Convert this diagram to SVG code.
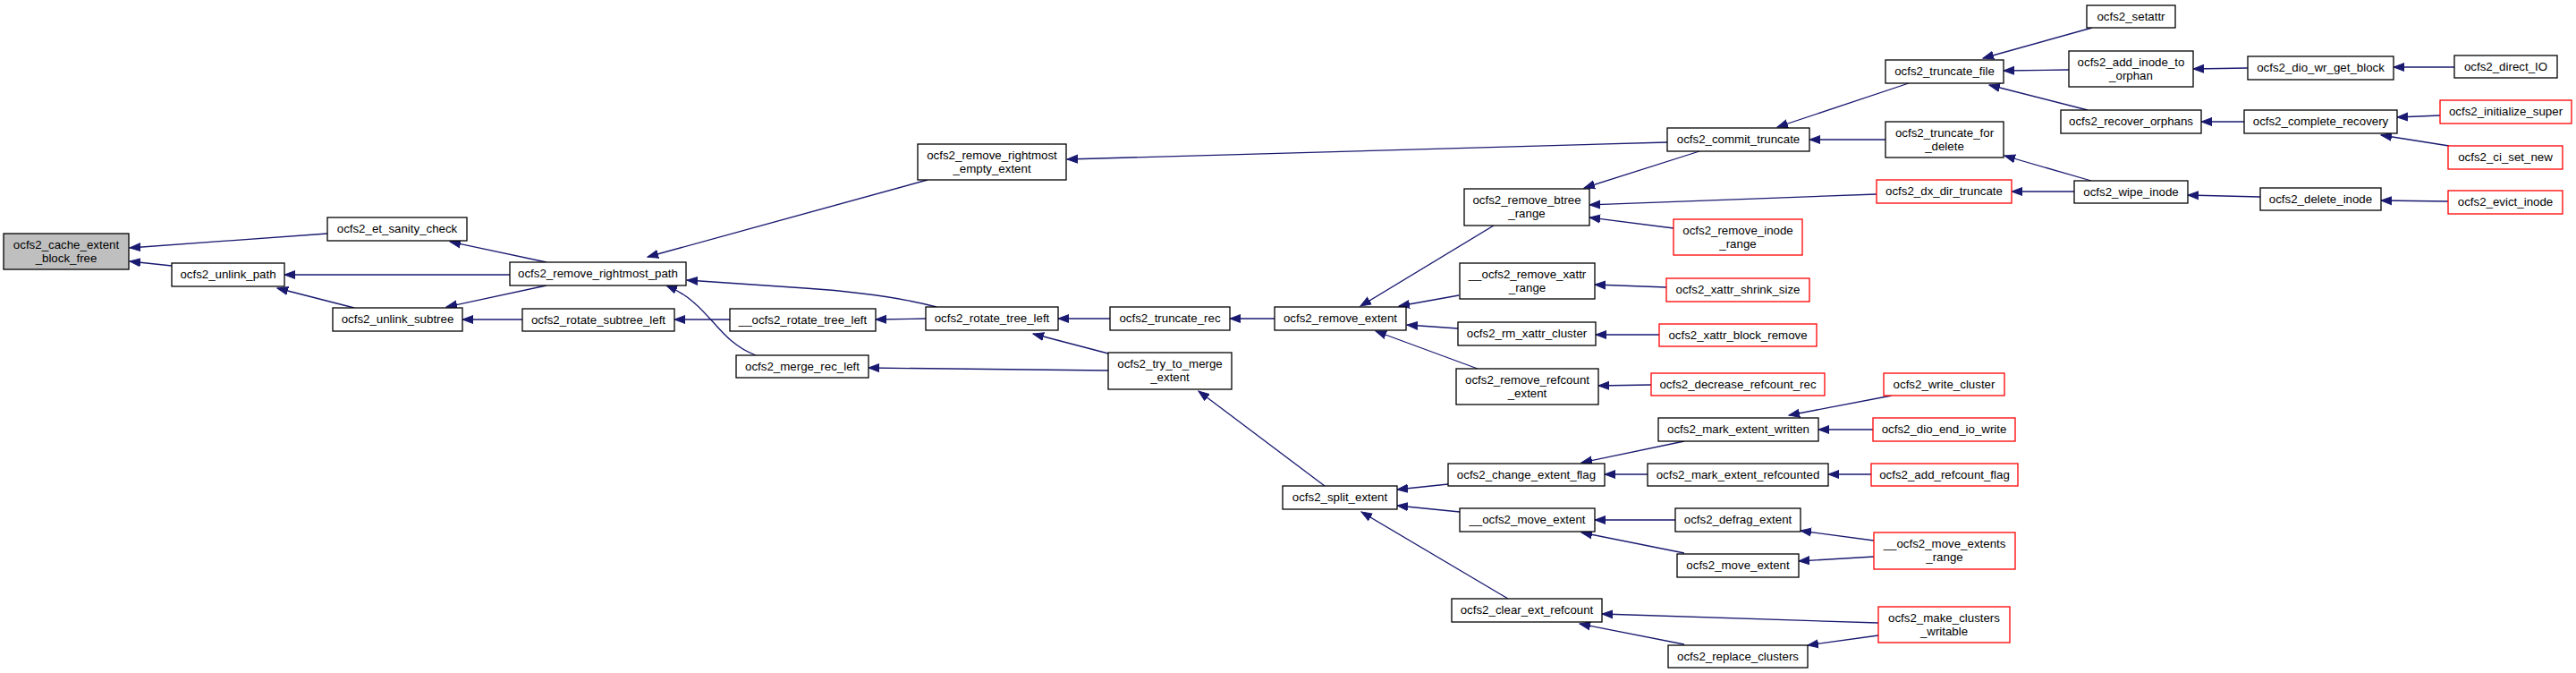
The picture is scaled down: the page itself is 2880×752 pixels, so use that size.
<svg xmlns="http://www.w3.org/2000/svg" width="2880" height="752" viewBox="0 0 2880 752">
<style>
.n rect{fill:#fff;stroke:#000;stroke-width:1.3}
.r rect{stroke:#ff0000}
.g rect{fill:#bfbfbf}
text{font-family:"Liberation Sans",Arial,Helvetica,sans-serif;font-size:13.3px;text-anchor:middle;fill:#000}
.e path{fill:none;stroke:#191970;stroke-width:1.3;marker-end:url(#a)}
</style>
<defs>
<marker id="a" markerUnits="userSpaceOnUse" markerWidth="14" markerHeight="12" refX="12" refY="5" orient="auto" viewBox="0 0 14 10">
<path d="M0,0.5 L12,5 L0,9.5 z" fill="#191970" stroke="#191970" stroke-width="1"/>
</marker>
</defs>
<rect width="2880" height="752" fill="#fff"/>
<g id="edges" class="e">
<path d="M366,261 L145,277"/>
<path d="M192,297 L145,292"/>
<path d="M611,293 L503,270"/>
<path d="M570,307 L318,307"/>
<path d="M396,344 L310,322"/>
<path d="M611,319 L499,343"/>
<path d="M584,357 L517,357"/>
<path d="M816,357 L754,357"/>
<path d="M1035,356 L979,357"/>
<path d="M1241,356 L1183,356"/>
<path d="M1425,356 L1375,356"/>
<path d="M1239,395 L1155,373"/>
<path d="M1239,414 L971,411"/>
<path d="M1047,343 Q990,328 900,322 L768,313"/>
<path d="M1037,201 L724,287"/>
<path d="M845,397 C800,380 795,340 745,319"/>
<path d="M1864,159 L1193,178"/>
<path d="M1670,252 L1521,342"/>
<path d="M1631,330 L1564,342"/>
<path d="M1630,367 L1573,363"/>
<path d="M1652,412 L1538,370"/>
<path d="M1481,543 L1340,437"/>
<path d="M1619,541 L1562,547"/>
<path d="M1632,572 L1562,565"/>
<path d="M1686,669 L1522,572"/>
<path d="M1883,493 L1768,517"/>
<path d="M1842,530 L1794,530"/>
<path d="M2115,442 L2000,464"/>
<path d="M2094,480 L2033,480"/>
<path d="M2092,530 L2044,530"/>
<path d="M1873,581 L1783,581"/>
<path d="M1883,618 L1768,595"/>
<path d="M2095,604 L2013,593"/>
<path d="M2095,622 L2011,627"/>
<path d="M2100,696 L1791,686"/>
<path d="M1883,720 L1766,697"/>
<path d="M2100,710 L2021,721"/>
<path d="M1846,430 L1787,431"/>
<path d="M1855,374 L1784,374"/>
<path d="M1863,321 L1783,318"/>
<path d="M1900,169 L1771,210"/>
<path d="M2098,217 L1777,229"/>
<path d="M1871,255 L1777,243"/>
<path d="M2134,93 L1987,142"/>
<path d="M2108,156 L2023,156"/>
<path d="M2339,31 L2217,65"/>
<path d="M2313,78 L2240,79"/>
<path d="M2334,123 L2224,95"/>
<path d="M2338,202 L2241,174"/>
<path d="M2319,214 L2249,214"/>
<path d="M2513,76 L2452,77"/>
<path d="M2744,75 L2676,75"/>
<path d="M2509,136 L2461,136"/>
<path d="M2728,129 L2680,131"/>
<path d="M2738,163 L2662,151"/>
<path d="M2527,220 L2446,218"/>
<path d="M2737,225 L2662,224"/>
</g>
<g id="n1" class="n g"><rect x="4" y="261" width="140" height="40"/><text x="74" y="277.5">ocfs2_cache_extent</text><text x="74" y="292.5">_block_free</text></g>
<g id="n2" class="n"><rect x="366" y="243" width="156" height="26"/><text x="444" y="260">ocfs2_et_sanity_check</text></g>
<g id="n3" class="n"><rect x="192" y="294" width="126" height="26"/><text x="255" y="311">ocfs2_unlink_path</text></g>
<g id="n4" class="n"><rect x="372" y="344" width="145" height="26"/><text x="444.5" y="361">ocfs2_unlink_subtree</text></g>
<g id="n5" class="n"><rect x="570" y="293" width="197" height="26"/><text x="668.5" y="310">ocfs2_remove_rightmost_path</text></g>
<g id="n6" class="n"><rect x="584" y="345" width="170" height="25"/><text x="669" y="361.5">ocfs2_rotate_subtree_left</text></g>
<g id="n7" class="n"><rect x="816" y="345" width="163" height="25"/><text x="897.5" y="361.5">__ocfs2_rotate_tree_left</text></g>
<g id="n8" class="n"><rect x="823" y="397" width="148" height="25"/><text x="897" y="413.5">ocfs2_merge_rec_left</text></g>
<g id="n9" class="n"><rect x="1026" y="161" width="166" height="40"/><text x="1109" y="177.5">ocfs2_remove_rightmost</text><text x="1109" y="192.5">_empty_extent</text></g>
<g id="n10" class="n"><rect x="1035" y="343" width="148" height="26"/><text x="1109" y="360">ocfs2_rotate_tree_left</text></g>
<g id="n11" class="n"><rect x="1241" y="343" width="134" height="26"/><text x="1308" y="360">ocfs2_truncate_rec</text></g>
<g id="n12" class="n"><rect x="1425" y="343" width="147" height="26"/><text x="1498.5" y="360">ocfs2_remove_extent</text></g>
<g id="n13" class="n"><rect x="1239" y="394" width="138" height="41"/><text x="1308" y="411">ocfs2_try_to_merge</text><text x="1308" y="426">_extent</text></g>
<g id="n14" class="n"><rect x="1864" y="143" width="159" height="26"/><text x="1943.5" y="160">ocfs2_commit_truncate</text></g>
<g id="n15" class="n"><rect x="2108" y="67" width="132" height="26"/><text x="2174" y="84">ocfs2_truncate_file</text></g>
<g id="n16" class="n"><rect x="2108" y="136" width="132" height="40"/><text x="2174" y="152.5">ocfs2_truncate_for</text><text x="2174" y="167.5">_delete</text></g>
<g id="n17" class="n"><rect x="2333" y="6" width="99" height="25"/><text x="2382.5" y="22.5">ocfs2_setattr</text></g>
<g id="n18" class="n"><rect x="2313" y="57" width="139" height="40"/><text x="2382.5" y="73.5">ocfs2_add_inode_to</text><text x="2382.5" y="88.5">_orphan</text></g>
<g id="n19" class="n"><rect x="2304" y="123" width="157" height="26"/><text x="2382.5" y="140">ocfs2_recover_orphans</text></g>
<g id="n20" class="n"><rect x="2513" y="63" width="163" height="26"/><text x="2594.5" y="80">ocfs2_dio_wr_get_block</text></g>
<g id="n21" class="n"><rect x="2744" y="62" width="115" height="25"/><text x="2801.5" y="78.5">ocfs2_direct_IO</text></g>
<g id="n22" class="n"><rect x="2509" y="123" width="171" height="26"/><text x="2594.5" y="140">ocfs2_complete_recovery</text></g>
<g id="n23" class="n r"><rect x="2728" y="112" width="147" height="26"/><text x="2801.5" y="129">ocfs2_initialize_super</text></g>
<g id="n24" class="n r"><rect x="2737" y="163" width="128" height="26"/><text x="2801" y="180">ocfs2_ci_set_new</text></g>
<g id="n25" class="n"><rect x="2319" y="202" width="127" height="25"/><text x="2382.5" y="218.5">ocfs2_wipe_inode</text></g>
<g id="n26" class="n r"><rect x="2098" y="201" width="151" height="26"/><text x="2173.5" y="218">ocfs2_dx_dir_truncate</text></g>
<g id="n27" class="n"><rect x="2527" y="210" width="135" height="25"/><text x="2594.5" y="226.5">ocfs2_delete_inode</text></g>
<g id="n28" class="n r"><rect x="2737" y="213" width="128" height="26"/><text x="2801" y="230">ocfs2_evict_inode</text></g>
<g id="n29" class="n"><rect x="1637" y="211" width="140" height="41"/><text x="1707" y="228">ocfs2_remove_btree</text><text x="1707" y="243">_range</text></g>
<g id="n30" class="n r"><rect x="1871" y="245" width="144" height="40"/><text x="1943" y="261.5">ocfs2_remove_inode</text><text x="1943" y="276.5">_range</text></g>
<g id="n31" class="n"><rect x="1632" y="294" width="151" height="40"/><text x="1707.5" y="310.5">__ocfs2_remove_xattr</text><text x="1707.5" y="325.5">_range</text></g>
<g id="n32" class="n r"><rect x="1863" y="311" width="160" height="26"/><text x="1943" y="328">ocfs2_xattr_shrink_size</text></g>
<g id="n33" class="n"><rect x="1630" y="360" width="154" height="26"/><text x="1707" y="377">ocfs2_rm_xattr_cluster</text></g>
<g id="n34" class="n r"><rect x="1855" y="362" width="176" height="25"/><text x="1943" y="378.5">ocfs2_xattr_block_remove</text></g>
<g id="n35" class="n"><rect x="1628" y="412" width="159" height="40"/><text x="1707.5" y="428.5">ocfs2_remove_refcount</text><text x="1707.5" y="443.5">_extent</text></g>
<g id="n36" class="n r"><rect x="1846" y="417" width="194" height="25"/><text x="1943" y="433.5">ocfs2_decrease_refcount_rec</text></g>
<g id="n37" class="n"><rect x="1434" y="543" width="128" height="26"/><text x="1498" y="560">ocfs2_split_extent</text></g>
<g id="n38" class="n"><rect x="1619" y="518" width="175" height="25"/><text x="1706.5" y="534.5">ocfs2_change_extent_flag</text></g>
<g id="n39" class="n"><rect x="1854" y="467" width="179" height="26"/><text x="1943.5" y="484">ocfs2_mark_extent_written</text></g>
<g id="n40" class="n r"><rect x="2106" y="417" width="135" height="25"/><text x="2173.5" y="433.5">ocfs2_write_cluster</text></g>
<g id="n41" class="n r"><rect x="2094" y="467" width="159" height="26"/><text x="2173.5" y="484">ocfs2_dio_end_io_write</text></g>
<g id="n42" class="n"><rect x="1842" y="518" width="202" height="25"/><text x="1943" y="534.5">ocfs2_mark_extent_refcounted</text></g>
<g id="n43" class="n r"><rect x="2092" y="518" width="164" height="25"/><text x="2174" y="534.5">ocfs2_add_refcount_flag</text></g>
<g id="n44" class="n"><rect x="1632" y="568" width="151" height="26"/><text x="1707.5" y="585">__ocfs2_move_extent</text></g>
<g id="n45" class="n"><rect x="1873" y="568" width="140" height="26"/><text x="1943" y="585">ocfs2_defrag_extent</text></g>
<g id="n46" class="n"><rect x="1875" y="619" width="136" height="26"/><text x="1943" y="636">ocfs2_move_extent</text></g>
<g id="n47" class="n r"><rect x="2095" y="595" width="158" height="41"/><text x="2174" y="612">__ocfs2_move_extents</text><text x="2174" y="627">_range</text></g>
<g id="n48" class="n"><rect x="1623" y="669" width="168" height="26"/><text x="1707" y="686">ocfs2_clear_ext_refcount</text></g>
<g id="n49" class="n r"><rect x="2100" y="678" width="147" height="40"/><text x="2173.5" y="694.5">ocfs2_make_clusters</text><text x="2173.5" y="709.5">_writable</text></g>
<g id="n50" class="n"><rect x="1865" y="721" width="156" height="25"/><text x="1943" y="737.5">ocfs2_replace_clusters</text></g>
</svg>
